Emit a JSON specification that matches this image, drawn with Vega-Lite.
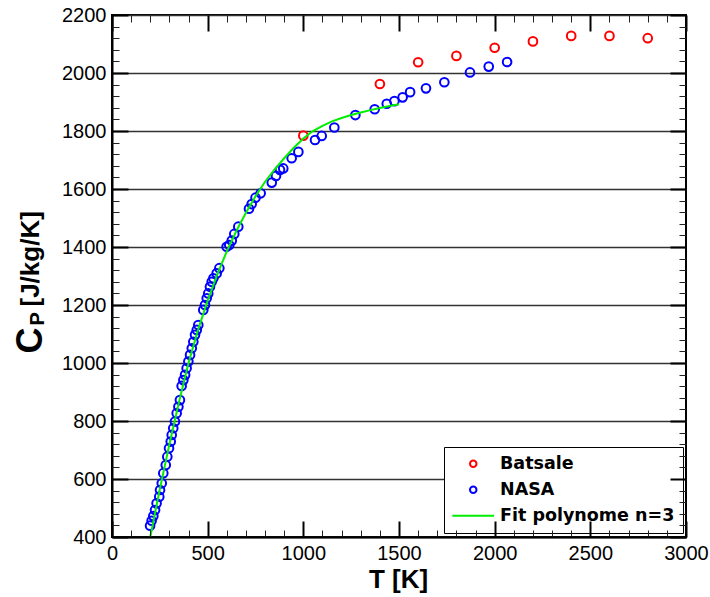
{
  "$schema": "https://vega.github.io/schema/vega-lite/v6.json",
  "width": 574,
  "height": 522,
  "autosize": {"type": "none"},
  "padding": {"left": 112, "top": 15, "right": 24, "bottom": 60},
  "background": "white",
  "config": {"view": {"stroke": "black", "strokeWidth": 2}, "font": "Liberation Sans"},
  "data": {"values": [
    {"series": "Batsale", "T": 1000, "Cp": 1784},
    {"series": "Batsale", "T": 1400, "Cp": 1962},
    {"series": "Batsale", "T": 1600, "Cp": 2037},
    {"series": "Batsale", "T": 1800, "Cp": 2059},
    {"series": "Batsale", "T": 2000, "Cp": 2087},
    {"series": "Batsale", "T": 2200, "Cp": 2109},
    {"series": "Batsale", "T": 2400, "Cp": 2128},
    {"series": "Batsale", "T": 2600, "Cp": 2128},
    {"series": "Batsale", "T": 2800, "Cp": 2120},
    {"series": "NASA", "T": 199, "Cp": 439},
    {"series": "NASA", "T": 207, "Cp": 456},
    {"series": "NASA", "T": 216, "Cp": 472},
    {"series": "NASA", "T": 225, "Cp": 493},
    {"series": "NASA", "T": 233, "Cp": 516},
    {"series": "NASA", "T": 247, "Cp": 539},
    {"series": "NASA", "T": 251, "Cp": 562},
    {"series": "NASA", "T": 260, "Cp": 585},
    {"series": "NASA", "T": 268, "Cp": 620},
    {"series": "NASA", "T": 281, "Cp": 648},
    {"series": "NASA", "T": 289, "Cp": 677},
    {"series": "NASA", "T": 298, "Cp": 706},
    {"series": "NASA", "T": 307, "Cp": 729},
    {"series": "NASA", "T": 312, "Cp": 752},
    {"series": "NASA", "T": 320, "Cp": 775},
    {"series": "NASA", "T": 329, "Cp": 798},
    {"series": "NASA", "T": 338, "Cp": 827},
    {"series": "NASA", "T": 347, "Cp": 849},
    {"series": "NASA", "T": 355, "Cp": 872},
    {"series": "NASA", "T": 364, "Cp": 921},
    {"series": "NASA", "T": 373, "Cp": 941},
    {"series": "NASA", "T": 382, "Cp": 959},
    {"series": "NASA", "T": 390, "Cp": 982},
    {"series": "NASA", "T": 399, "Cp": 1005},
    {"series": "NASA", "T": 408, "Cp": 1028},
    {"series": "NASA", "T": 417, "Cp": 1051},
    {"series": "NASA", "T": 425, "Cp": 1073},
    {"series": "NASA", "T": 434, "Cp": 1097},
    {"series": "NASA", "T": 443, "Cp": 1114},
    {"series": "NASA", "T": 451, "Cp": 1131},
    {"series": "NASA", "T": 477, "Cp": 1183},
    {"series": "NASA", "T": 486, "Cp": 1200},
    {"series": "NASA", "T": 495, "Cp": 1223},
    {"series": "NASA", "T": 503, "Cp": 1240},
    {"series": "NASA", "T": 512, "Cp": 1263},
    {"series": "NASA", "T": 521, "Cp": 1280},
    {"series": "NASA", "T": 530, "Cp": 1292},
    {"series": "NASA", "T": 547, "Cp": 1309},
    {"series": "NASA", "T": 561, "Cp": 1327},
    {"series": "NASA", "T": 599, "Cp": 1401},
    {"series": "NASA", "T": 613, "Cp": 1407},
    {"series": "NASA", "T": 626, "Cp": 1422},
    {"series": "NASA", "T": 639, "Cp": 1445},
    {"series": "NASA", "T": 660, "Cp": 1470},
    {"series": "NASA", "T": 716, "Cp": 1532},
    {"series": "NASA", "T": 730, "Cp": 1548},
    {"series": "NASA", "T": 750, "Cp": 1570},
    {"series": "NASA", "T": 777, "Cp": 1585},
    {"series": "NASA", "T": 835, "Cp": 1622},
    {"series": "NASA", "T": 857, "Cp": 1645},
    {"series": "NASA", "T": 878, "Cp": 1666},
    {"series": "NASA", "T": 895, "Cp": 1671},
    {"series": "NASA", "T": 939, "Cp": 1706},
    {"series": "NASA", "T": 974, "Cp": 1728},
    {"series": "NASA", "T": 1061, "Cp": 1769},
    {"series": "NASA", "T": 1096, "Cp": 1783},
    {"series": "NASA", "T": 1162, "Cp": 1812},
    {"series": "NASA", "T": 1272, "Cp": 1855},
    {"series": "NASA", "T": 1373, "Cp": 1875},
    {"series": "NASA", "T": 1436, "Cp": 1894},
    {"series": "NASA", "T": 1476, "Cp": 1903},
    {"series": "NASA", "T": 1519, "Cp": 1916},
    {"series": "NASA", "T": 1558, "Cp": 1934},
    {"series": "NASA", "T": 1641, "Cp": 1947},
    {"series": "NASA", "T": 1737, "Cp": 1968},
    {"series": "NASA", "T": 1871, "Cp": 2002},
    {"series": "NASA", "T": 1969, "Cp": 2022},
    {"series": "NASA", "T": 2065, "Cp": 2038},
    {"series": "Fit polynome n=3", "T": 200, "Cp": 400},
    {"series": "Fit polynome n=3", "T": 250, "Cp": 565},
    {"series": "Fit polynome n=3", "T": 300, "Cp": 720},
    {"series": "Fit polynome n=3", "T": 350, "Cp": 865},
    {"series": "Fit polynome n=3", "T": 400, "Cp": 1000},
    {"series": "Fit polynome n=3", "T": 450, "Cp": 1115},
    {"series": "Fit polynome n=3", "T": 500, "Cp": 1215},
    {"series": "Fit polynome n=3", "T": 550, "Cp": 1305},
    {"series": "Fit polynome n=3", "T": 600, "Cp": 1385},
    {"series": "Fit polynome n=3", "T": 650, "Cp": 1455},
    {"series": "Fit polynome n=3", "T": 700, "Cp": 1518},
    {"series": "Fit polynome n=3", "T": 750, "Cp": 1575},
    {"series": "Fit polynome n=3", "T": 800, "Cp": 1625},
    {"series": "Fit polynome n=3", "T": 850, "Cp": 1668},
    {"series": "Fit polynome n=3", "T": 900, "Cp": 1706},
    {"series": "Fit polynome n=3", "T": 950, "Cp": 1742},
    {"series": "Fit polynome n=3", "T": 1000, "Cp": 1774},
    {"series": "Fit polynome n=3", "T": 1050, "Cp": 1800},
    {"series": "Fit polynome n=3", "T": 1100, "Cp": 1818},
    {"series": "Fit polynome n=3", "T": 1150, "Cp": 1833},
    {"series": "Fit polynome n=3", "T": 1200, "Cp": 1845},
    {"series": "Fit polynome n=3", "T": 1250, "Cp": 1855},
    {"series": "Fit polynome n=3", "T": 1300, "Cp": 1864},
    {"series": "Fit polynome n=3", "T": 1350, "Cp": 1872},
    {"series": "Fit polynome n=3", "T": 1400, "Cp": 1879},
    {"series": "Fit polynome n=3", "T": 1450, "Cp": 1886},
    {"series": "Fit polynome n=3", "T": 1500, "Cp": 1892}
  ]},
  "layer": [
    {
      "transform": [{"filter": "datum.series !== 'Fit polynome n=3'"}],
      "mark": {"type": "point", "shape": "circle", "filled": false, "size": 75, "strokeWidth": 2, "opacity": 1},
      "encoding": {
        "x": {
          "field": "T", "type": "quantitative",
          "scale": {"domain": [0, 3000], "nice": false, "zero": false},
          "axis": {
            "orient": "bottom",
            "values": [0, 500, 1000, 1500, 2000, 2500, 3000],
            "format": "d",
            "ticks": false, "tickSize": 0,
            "domainColor": "black", "domainWidth": 2,
            "grid": true, "gridColor": "black", "gridWidth": 2, "gridDash": [16, 2000], "gridOpacity": 1,
            "zindex": 1,
            "labelPadding": 6,
            "labelFont": "Liberation Sans", "labelFontSize": 20, "labelColor": "black", "labelFlush": false, "labelOverlap": false,
            "title": "T [K]", "titleFont": "Liberation Sans", "titleFontSize": 26, "titleFontWeight": "bold", "titleColor": "black",
            "titleX": 286, "titleY": 50, "titleAlign": "center", "titleBaseline": "alphabetic", "titleAngle": 0
          }
        },
        "y": {
          "field": "Cp", "type": "quantitative",
          "scale": {"domain": [400, 2200], "nice": false, "zero": false},
          "axis": {
            "orient": "left",
            "values": [400, 600, 800, 1000, 1200, 1400, 1600, 1800, 2000, 2200],
            "format": "d",
            "ticks": false, "tickSize": 0,
            "domainColor": "black", "domainWidth": 2,
            "grid": true, "gridColor": "#333333", "gridWidth": 1.3,
            "labelPadding": 6,
            "labelFont": "Liberation Sans", "labelFontSize": 20, "labelColor": "black", "labelFlush": false, "labelOverlap": false,
            "title": "[J/kg/K]", "titleFont": "Liberation Sans", "titleFontSize": 26, "titleFontWeight": "bold", "titleColor": "black",
            "titleX": -74, "titleY": 291, "titleAngle": -90, "titleAlign": "left", "titleBaseline": "alphabetic"
          }
        },
        "color": {
          "field": "series", "type": "nominal",
          "scale": {"domain": ["Batsale", "NASA", "Fit polynome n=3"], "range": ["#ff0000", "#0000ff", "#00ee00"]},
          "legend": {
            "title": null,
            "orient": "none",
            "legendX": 332,
            "legendY": 432,
            "strokeColor": "black",
            "fillColor": "white",
            "padding": 8,
            "labelFont": "DejaVu Sans",
            "labelFontSize": 17.5,
            "labelFontWeight": "bold",
            "labelColor": "black",
            "labelLimit": 400,
            "symbolOffset": 12.5,
            "labelOffset": 18,
            "rowPadding": 7,
            "symbolType": {"expr": "datum.value === 'Fit polynome n=3' ? 'M-5,0H5' : 'circle'"},
            "symbolSize": {"expr": "datum.value === 'Fit polynome n=3' ? 70 : 42"},
            "symbolStrokeWidth": 2,
            "symbolFillColor": "transparent",
            "symbolOpacity": 1
          }
        }
      }
    },
    {
      "transform": [{"filter": "datum.series === 'Fit polynome n=3'"}],
      "mark": {"type": "line", "strokeWidth": 2},
      "encoding": {
        "x": {
          "field": "T", "type": "quantitative",
          "scale": {"domain": [0, 3000], "nice": false, "zero": false},
          "axis": {
            "orient": "top",
            "values": [0, 500, 1000, 1500, 2000, 2500, 3000],
            "labels": false, "domain": false, "ticks": false,
            "grid": true, "gridColor": "black", "gridWidth": 2, "gridDash": [16, 2000], "gridOpacity": 1,
            "zindex": 1,
            "title": null
          }
        },
        "y": {
          "field": "Cp", "type": "quantitative",
          "scale": {"domain": [400, 2200], "nice": false, "zero": false},
          "axis": {
            "orient": "right",
            "values": [400, 600, 800, 1000, 1200, 1400, 1600, 1800, 2000, 2200],
            "labels": false, "domain": false, "ticks": false,
            "grid": true, "gridColor": "black", "gridWidth": 2, "gridDash": [16, 2000], "gridOpacity": 1,
            "zindex": 1,
            "title": null
          }
        },
        "color": {
          "field": "series", "type": "nominal",
          "scale": {"domain": ["Batsale", "NASA", "Fit polynome n=3"], "range": ["#ff0000", "#0000ff", "#00ee00"]},
          "legend": null
        }
      }
    },
    {
      "transform": [{"filter": "datum.series === 'Fit polynome n=3'"}],
      "mark": {"type": "line", "opacity": 0},
      "encoding": {
        "x": {
          "field": "T", "type": "quantitative",
          "scale": {"domain": [0, 3000], "nice": false, "zero": false},
          "axis": {
            "orient": "bottom",
            "values": [100,200,300,400,600,700,800,900,1100,1200,1300,1400,1600,1700,1800,1900,2100,2200,2300,2400,2600,2700,2800,2900],
            "labels": false, "domain": false, "ticks": false,
            "grid": true, "gridColor": "#222222", "gridWidth": 1, "gridDash": [7, 2000], "gridOpacity": 1,
            "zindex": 1,
            "title": null
          }
        },
        "y": {
          "field": "Cp", "type": "quantitative",
          "scale": {"domain": [400, 2200], "nice": false, "zero": false},
          "axis": {
            "orient": "left",
            "values": [440,480,520,560,640,680,720,760,840,880,920,960,1040,1080,1120,1160,1240,1280,1320,1360,1440,1480,1520,1560,1640,1680,1720,1760,1840,1880,1920,1960,2040,2080,2120,2160],
            "labels": false, "domain": false, "ticks": false,
            "grid": true, "gridColor": "#222222", "gridWidth": 1, "gridDash": [7, 2000], "gridOpacity": 1,
            "zindex": 1,
            "title": "C", "titleFont": "Liberation Sans", "titleFontSize": 36, "titleFontWeight": "bold", "titleColor": "black",
            "titleX": -71, "titleY": 338, "titleAngle": -90, "titleAlign": "left", "titleBaseline": "alphabetic"
          }
        }
      }
    },
    {
      "transform": [{"filter": "datum.series === 'Fit polynome n=3'"}],
      "mark": {"type": "line", "opacity": 0},
      "encoding": {
        "x": {
          "field": "T", "type": "quantitative",
          "scale": {"domain": [0, 3000], "nice": false, "zero": false},
          "axis": {
            "orient": "top",
            "values": [100,200,300,400,600,700,800,900,1100,1200,1300,1400,1600,1700,1800,1900,2100,2200,2300,2400,2600,2700,2800,2900],
            "labels": false, "domain": false, "ticks": false,
            "grid": true, "gridColor": "#222222", "gridWidth": 1, "gridDash": [7, 2000], "gridOpacity": 1,
            "zindex": 1,
            "title": null
          }
        },
        "y": {
          "field": "Cp", "type": "quantitative",
          "scale": {"domain": [400, 2200], "nice": false, "zero": false},
          "axis": {
            "orient": "right",
            "values": [440,480,520,560,640,680,720,760,840,880,920,960,1040,1080,1120,1160,1240,1280,1320,1360,1440,1480,1520,1560,1640,1680,1720,1760,1840,1880,1920,1960,2040,2080,2120,2160],
            "labels": false, "domain": false, "ticks": false,
            "grid": true, "gridColor": "#222222", "gridWidth": 1, "gridDash": [7, 2000], "gridOpacity": 1,
            "zindex": 1,
            "title": "P", "titleFont": "Liberation Sans", "titleFontSize": 20, "titleFontWeight": "bold", "titleColor": "black",
            "titleX": -643, "titleY": 310, "titleAngle": -90, "titleAlign": "left", "titleBaseline": "alphabetic"
          }
        }
      }
    },
    {
      "transform": [{"filter": "datum.series === 'Fit polynome n=3'"}],
      "mark": {"type": "line", "opacity": 0},
      "encoding": {
        "x": {
          "field": "T", "type": "quantitative",
          "scale": {"domain": [0, 3000], "nice": false, "zero": false},
          "axis": null
        },
        "y": {
          "field": "Cp", "type": "quantitative",
          "scale": {"domain": [400, 2200], "nice": false, "zero": false},
          "axis": {
            "orient": "left",
            "values": [400, 600, 800, 1000, 1200, 1400, 1600, 1800, 2000, 2200],
            "labels": false, "domain": false, "ticks": false,
            "grid": true, "gridColor": "black", "gridWidth": 2, "gridDash": [16, 2000], "gridOpacity": 1,
            "zindex": 1,
            "title": null
          }
        }
      }
    }
  ],
  "resolve": {"axis": {"x": "independent", "y": "independent"}}
}
